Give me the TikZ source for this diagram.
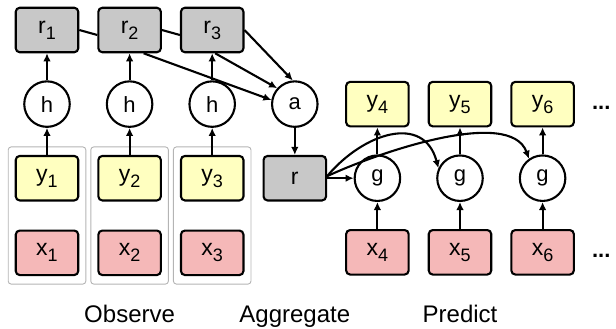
\documentclass[tikz,border=0pt]{standalone}
\usepackage{fontspec}
\setmainfont{Liberation Sans}
\usepackage{tikz}
\usetikzlibrary{arrows, arrows.meta, positioning, fit}

\definecolor{boxgray}{HTML}{C8C8C8}
\definecolor{boxyellow}{HTML}{FFFFC0}
\definecolor{boxpink}{HTML}{F5B8B8}
\definecolor{groupgray}{HTML}{B4B4B4}

\newcommand{\lsub}[1]{\raisebox{-6pt}{\fontsize{18}{18}\selectfont #1}}

\begin{document}
\begin{tikzpicture}[x=1pt, y=-1pt, node distance=27pt and 18pt, auto]

        % Define styles
        \tikzstyle{rbox} = [rectangle, draw, line width=2.1pt, fill=boxgray, rounded corners=4pt, minimum width=62.5pt, minimum height=44.5pt, inner sep=0pt, font=\fontsize{23}{26}\selectfont]
        \tikzstyle{ybox} = [rbox, fill=boxyellow]
        \tikzstyle{xbox} = [rbox, fill=boxpink]
        \tikzstyle{fn} = [circle, draw, line width=2.1pt, fill=white, minimum size=45.5pt, inner sep=0pt, font=\fontsize{22}{24}\selectfont]
        \tikzstyle{group} = [draw=groupgray, line width=0.9pt, rounded corners=3pt, inner xsep=6.5pt, inner ysep=8pt]
        \tikzstyle{line} = [draw, line width=2.1pt]
        \tikzstyle{arrow} = [draw, line width=2.1pt, -{Latex[length=8pt, width=7.5pt]}]
        \tikzstyle{lab} = [inner sep=0pt, font=\fontsize{24}{28}\selectfont]
        \tikzstyle{more} = [inner sep=0pt, yshift=-4pt, font=\fontsize{22}{22}\selectfont\bfseries]

        \useasboundingbox (0,0) rectangle (616,329);

        % Place nodes
        \node [rbox] (r1) at (47,30) {r\lsub{1}};
        \node [rbox, right=of r1] (r2) {r\lsub{2}};
        \node [rbox, right=of r2] (r3) {r\lsub{3}};
        \node [fn, below=of r1] (h1) {h};
        \node [fn, below=of r2] (h2) {h};
        \node [fn, below=of r3] (h3) {h};
        \node [ybox, below=of h1] (y1) {y\lsub{1}};
        \node [ybox, below=of h2] (y2) {y\lsub{2}};
        \node [ybox, below=of h3] (y3) {y\lsub{3}};
        \node [xbox, below=28pt of y1] (x1) {x\lsub{1}};
        \node [xbox, below=28pt of y2] (x2) {x\lsub{2}};
        \node [xbox, below=28pt of y3] (x3) {x\lsub{3}};

        % Aggregation
        \node [fn, right=35pt of h3] (a) {a};
        \node [rbox, below=of a] (rr) {r};

        % Prediction
        \node [fn, right=26.5pt of rr] (g1) {g};
        \node [ybox, above=of g1] (y4) {y\lsub{4}};
        \node [ybox, right=of y4] (y5) {y\lsub{5}};
        \node [ybox, right=of y5] (y6) {y\lsub{6}};
        \node [fn, below=of y5] (g2) {g};
        \node [fn, below=of y6] (g3) {g};
        \node [xbox, below=of g1] (x4) {x\lsub{4}};
        \node [xbox, below=of g2] (x5) {x\lsub{5}};
        \node [xbox, below=of g3] (x6) {x\lsub{6}};
        \node [more, right=17pt of y6] (ymore) {...};
        \node [more, right=17pt of x6] (xmore) {...};

        % Observed pairs
        \node [group, fit=(y1) (x1)] (obs1) {};
        \node [group, fit=(y2) (x2)] (obs2) {};
        \node [group, fit=(y3) (x3)] (obs3) {};

        % Captions
        \node [lab, below=20pt of obs2] (observe) {Observe};
        \node [lab, anchor=base] (aggregate) at (rr |- observe.base) {Aggregate};
        \node [lab, anchor=base] (predict) at (g2 |- observe.base) {Predict};

        % Draw edges
        \path [arrow] (y1) -- (h1);
        \path [arrow] (y2) -- (h2);
        \path [arrow] (y3) -- (h3);
        \path [arrow] (h1) -- (r1);
        \path [arrow] (h2) -- (r2);
        \path [arrow] (h3) -- (r3);

        % Aggregator connections
        \path [line] (r1.east) -- ([yshift=-5pt]r2.west);
        \path [line] (r2.east) -- ([yshift=-5pt]r3.west);
        \path [arrow] (r3.east) -- (a.95);
        \path [arrow] ([xshift=3pt]r3.south) -- (a.138);
        \path [arrow] ([xshift=14pt]r2.south) -- (a.170);
        \path [arrow] (a) -- (rr);

        % Decoder connections
        \path [arrow] (rr) -- (g1);
        \path [arrow] ([yshift=2pt]rr.east) to [out=50, in=105, looseness=1.3] (g2.155);
        \path [arrow] ([yshift=2pt]rr.east) to [out=25, in=110, looseness=0.7] (g3.125);
        \path [arrow] (x4) -- (g1);
        \path [arrow] (x5) -- (g2);
        \path [arrow] (x6) -- (g3);
        \path [arrow] (g1) -- (y4);
        \path [arrow] (g2) -- (y5);
        \path [arrow] (g3) -- (y6);

    \end{tikzpicture}
\end{document}
